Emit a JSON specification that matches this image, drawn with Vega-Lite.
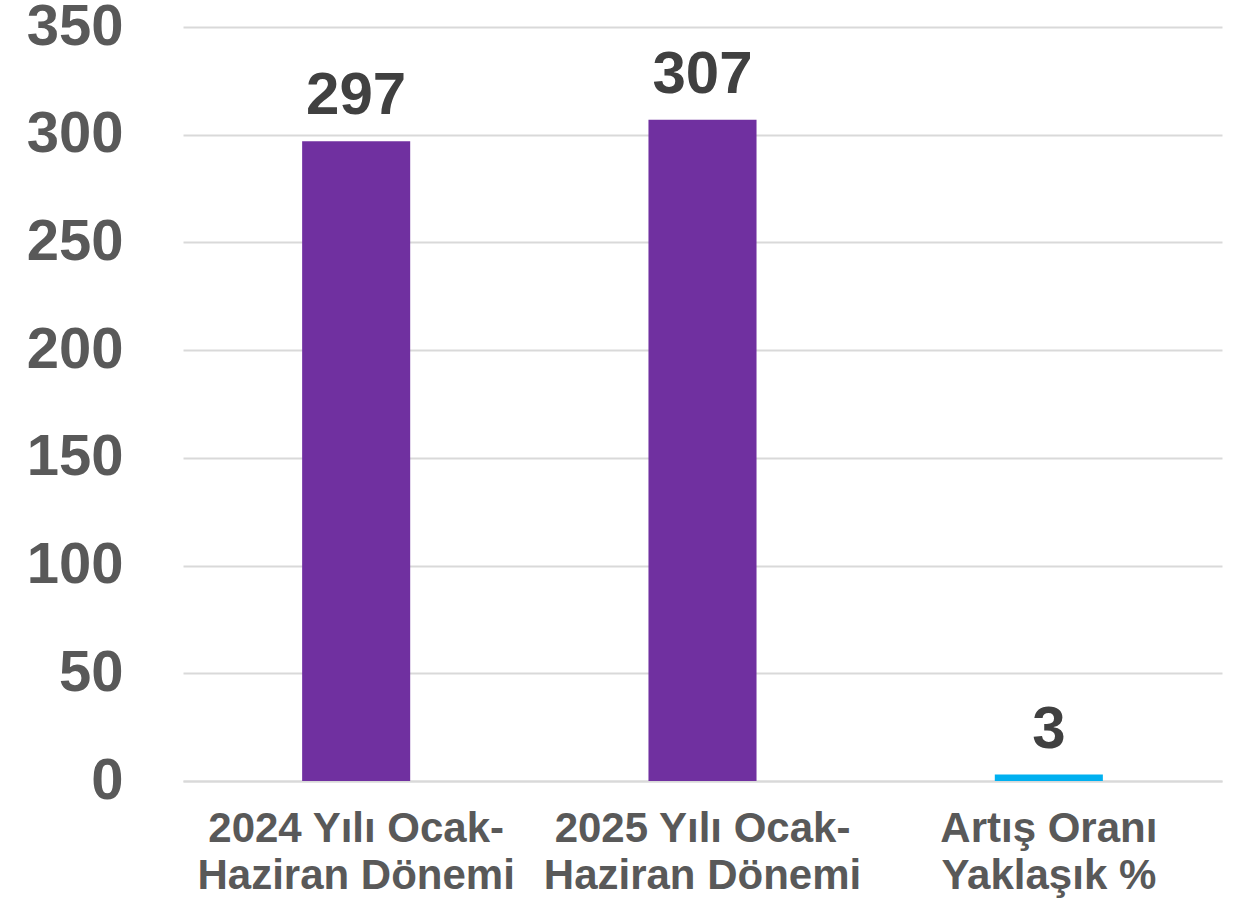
{
  "$schema": "https://vega.github.io/schema/vega-lite/v6.json",
  "width": 1039,
  "height": 754,
  "autosize": "none",
  "padding": {"left": 183, "top": 27, "right": 34, "bottom": 124},
  "background": "white",
  "config": {"view": {"stroke": null}, "font": "Liberation Sans"},
  "data": {"values": [
    {"kategori": "2024 Yılı Ocak-\nHaziran Dönemi", "deger": 297, "tur": "a"},
    {"kategori": "2025 Yılı Ocak-\nHaziran Dönemi", "deger": 307, "tur": "a"},
    {"kategori": "Artış Oranı\nYaklaşık %", "deger": 3, "tur": "b"}
  ]},
  "encoding": {
    "x": {"field": "kategori", "type": "nominal", "sort": null,
      "scale": {"paddingInner": 0.688, "paddingOuter": 0.344},
      "axis": {"title": null, "labelAngle": 0, "labelExpr": "split(datum.label, '\\n')",
        "labelFont": "Liberation Sans", "labelFontSize": 42, "labelFontWeight": "bold",
        "labelColor": "#595959", "labelLineHeight": 47, "labelPadding": 27, "labelBaseline": "top",
        "ticks": false, "domainColor": "#d9d9d9", "domainWidth": 2, "labelLimit": 0}},
    "y": {"field": "deger", "type": "quantitative",
      "scale": {"domain": [0, 350], "nice": false},
      "axis": {"title": null, "values": [0, 50, 100, 150, 200, 250, 300, 350],
        "labelFont": "Liberation Sans", "labelFontSize": 58, "labelFontWeight": "bold",
        "labelColor": "#595959", "labelPadding": 60, "ticks": false, "domain": false,
        "gridColor": "#d9d9d9", "gridWidth": 2}}
  },
  "layer": [
    {"mark": {"type": "bar"},
     "encoding": {"color": {"field": "tur", "type": "nominal", "legend": null,
       "scale": {"domain": ["a", "b"], "range": ["#7030A0", "#00B0F0"]}}}},
    {"mark": {"type": "text", "baseline": "alphabetic", "dy": -27, "fontSize": 60, "fontWeight": "bold", "color": "#404040", "font": "Liberation Sans"},
     "encoding": {"text": {"field": "deger", "type": "quantitative"}}}
  ]
}
